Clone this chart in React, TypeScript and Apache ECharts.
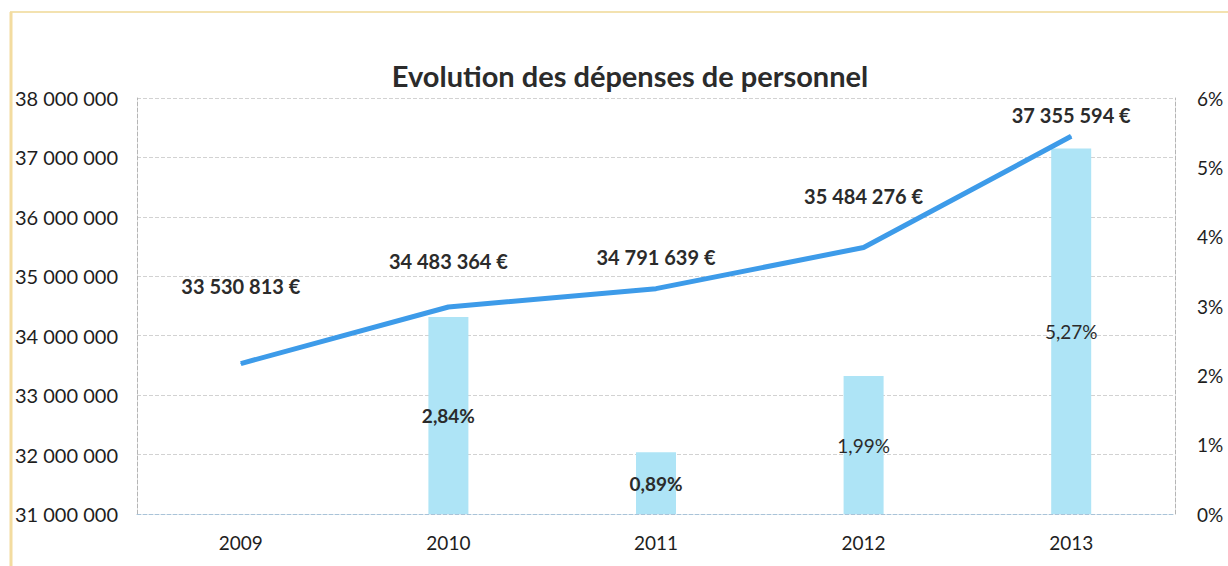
import React, { useEffect, useRef } from "react";
import * as echarts from "echarts";

const years = ["2009", "2010", "2011", "2012", "2013"];
const expenses = [33530813, 34483364, 34791639, 35484276, 37355594];
const growth = [0, 2.84, 0.89, 1.99, 5.27];
const growthBold = [false, true, true, false, false];
const lineLabelOffsets = [-62, -30, -16, -36, -6];

const FONT = "Lato, 'Open Sans', sans-serif";

const fmtNum = (v: number) =>
  Math.round(v)
    .toString()
    .replace(/\B(?=(\d{3})+(?!\d))/g, " ");

export default function App() {
  const ref = useRef<HTMLDivElement>(null);
  useEffect(() => {
    if (!ref.current) return;
    const chart = echarts.init(ref.current, null, { renderer: "svg" });
    chart.setOption({
      animation: false,
      backgroundColor: "#ffffff",
      title: {
        text: "Evolution des dépenses de personnel",
        left: 625,
        top: 56,
        textAlign: "center",
        textStyle: { fontFamily: FONT, fontSize: 29, fontWeight: "bold", color: "#2b2b2b" },
      },
      grid: { left: 137, right: 53, top: 98, bottom: 52 },
      xAxis: {
        type: "category",
        data: years,
        axisLine: { show: true, lineStyle: { color: "#a9c3d8", type: "dashed" } },
        axisTick: { show: false },
        axisLabel: { fontFamily: FONT, fontSize: 19, color: "#1e1e1e", margin: 19 },
      },
      yAxis: [
        {
          type: "value",
          min: 31000000,
          max: 38000000,
          interval: 1000000,
          axisLine: { show: true, lineStyle: { color: "#b5b5b5", type: "dashed" } },
          splitLine: { show: true, lineStyle: { color: "#d2d2d2", type: "dashed" } },
          axisLabel: {
            fontFamily: FONT,
            fontSize: 20,
            color: "#1e1e1e",
            margin: 19,
            formatter: (v: number) => fmtNum(v),
          },
        },
        {
          type: "value",
          min: 0,
          max: 6,
          interval: 1,
          position: "right",
          axisLine: { show: true, lineStyle: { color: "#b5b5b5", type: "dashed" } },
          splitLine: { show: false },
          axisLabel: {
            fontFamily: FONT,
            fontSize: 19,
            color: "#1e1e1e",
            margin: 22,
            formatter: (v: number) => v + "%",
          },
        },
      ],
      series: [
        {
          type: "bar",
          yAxisIndex: 1,
          barWidth: 40,
          itemStyle: { color: "#aee4f6" },
          data: growth.map((g, i) => ({
            value: g,
            label: {
              show: g > 0,
              position: "inside",
              fontFamily: FONT,
              fontSize: 19,
              color: "#2b2b2b",
              fontWeight: growthBold[i] ? "bold" : "normal",
              formatter: () => g.toFixed(2).replace(".", ",") + "%",
            },
          })),
          z: 1,
        },
        {
          type: "line",
          yAxisIndex: 0,
          symbol: "circle",
          symbolSize: 1,
          itemStyle: { color: "#3d9be9" },
          lineStyle: { color: "#3d9be9", width: 5 },
          data: expenses.map((v, i) => ({
            value: v,
            label: {
              show: true,
              position: "top",
              offset: [0, lineLabelOffsets[i]],
              fontFamily: FONT,
              fontSize: 20,
              fontWeight: "bold",
              color: "#2b2b2b",
              formatter: () => fmtNum(v) + " €",
            },
          })),
          z: 3,
        },
      ],
      graphic: [
        { type: "line", shape: { x1: 10, y1: 12, x2: 1228, y2: 12 }, style: { stroke: "#f3e2b0", lineWidth: 2 } },
        { type: "line", shape: { x1: 11, y1: 12, x2: 11, y2: 566 }, style: { stroke: "#f3dca0", lineWidth: 3 } },
      ],
    });
    return () => chart.dispose();
  }, []);
  return (
    <div
      ref={ref}
      style={{ position: "absolute", left: 0, top: 0, width: 1228, height: 566 }}
    />
  );
}
